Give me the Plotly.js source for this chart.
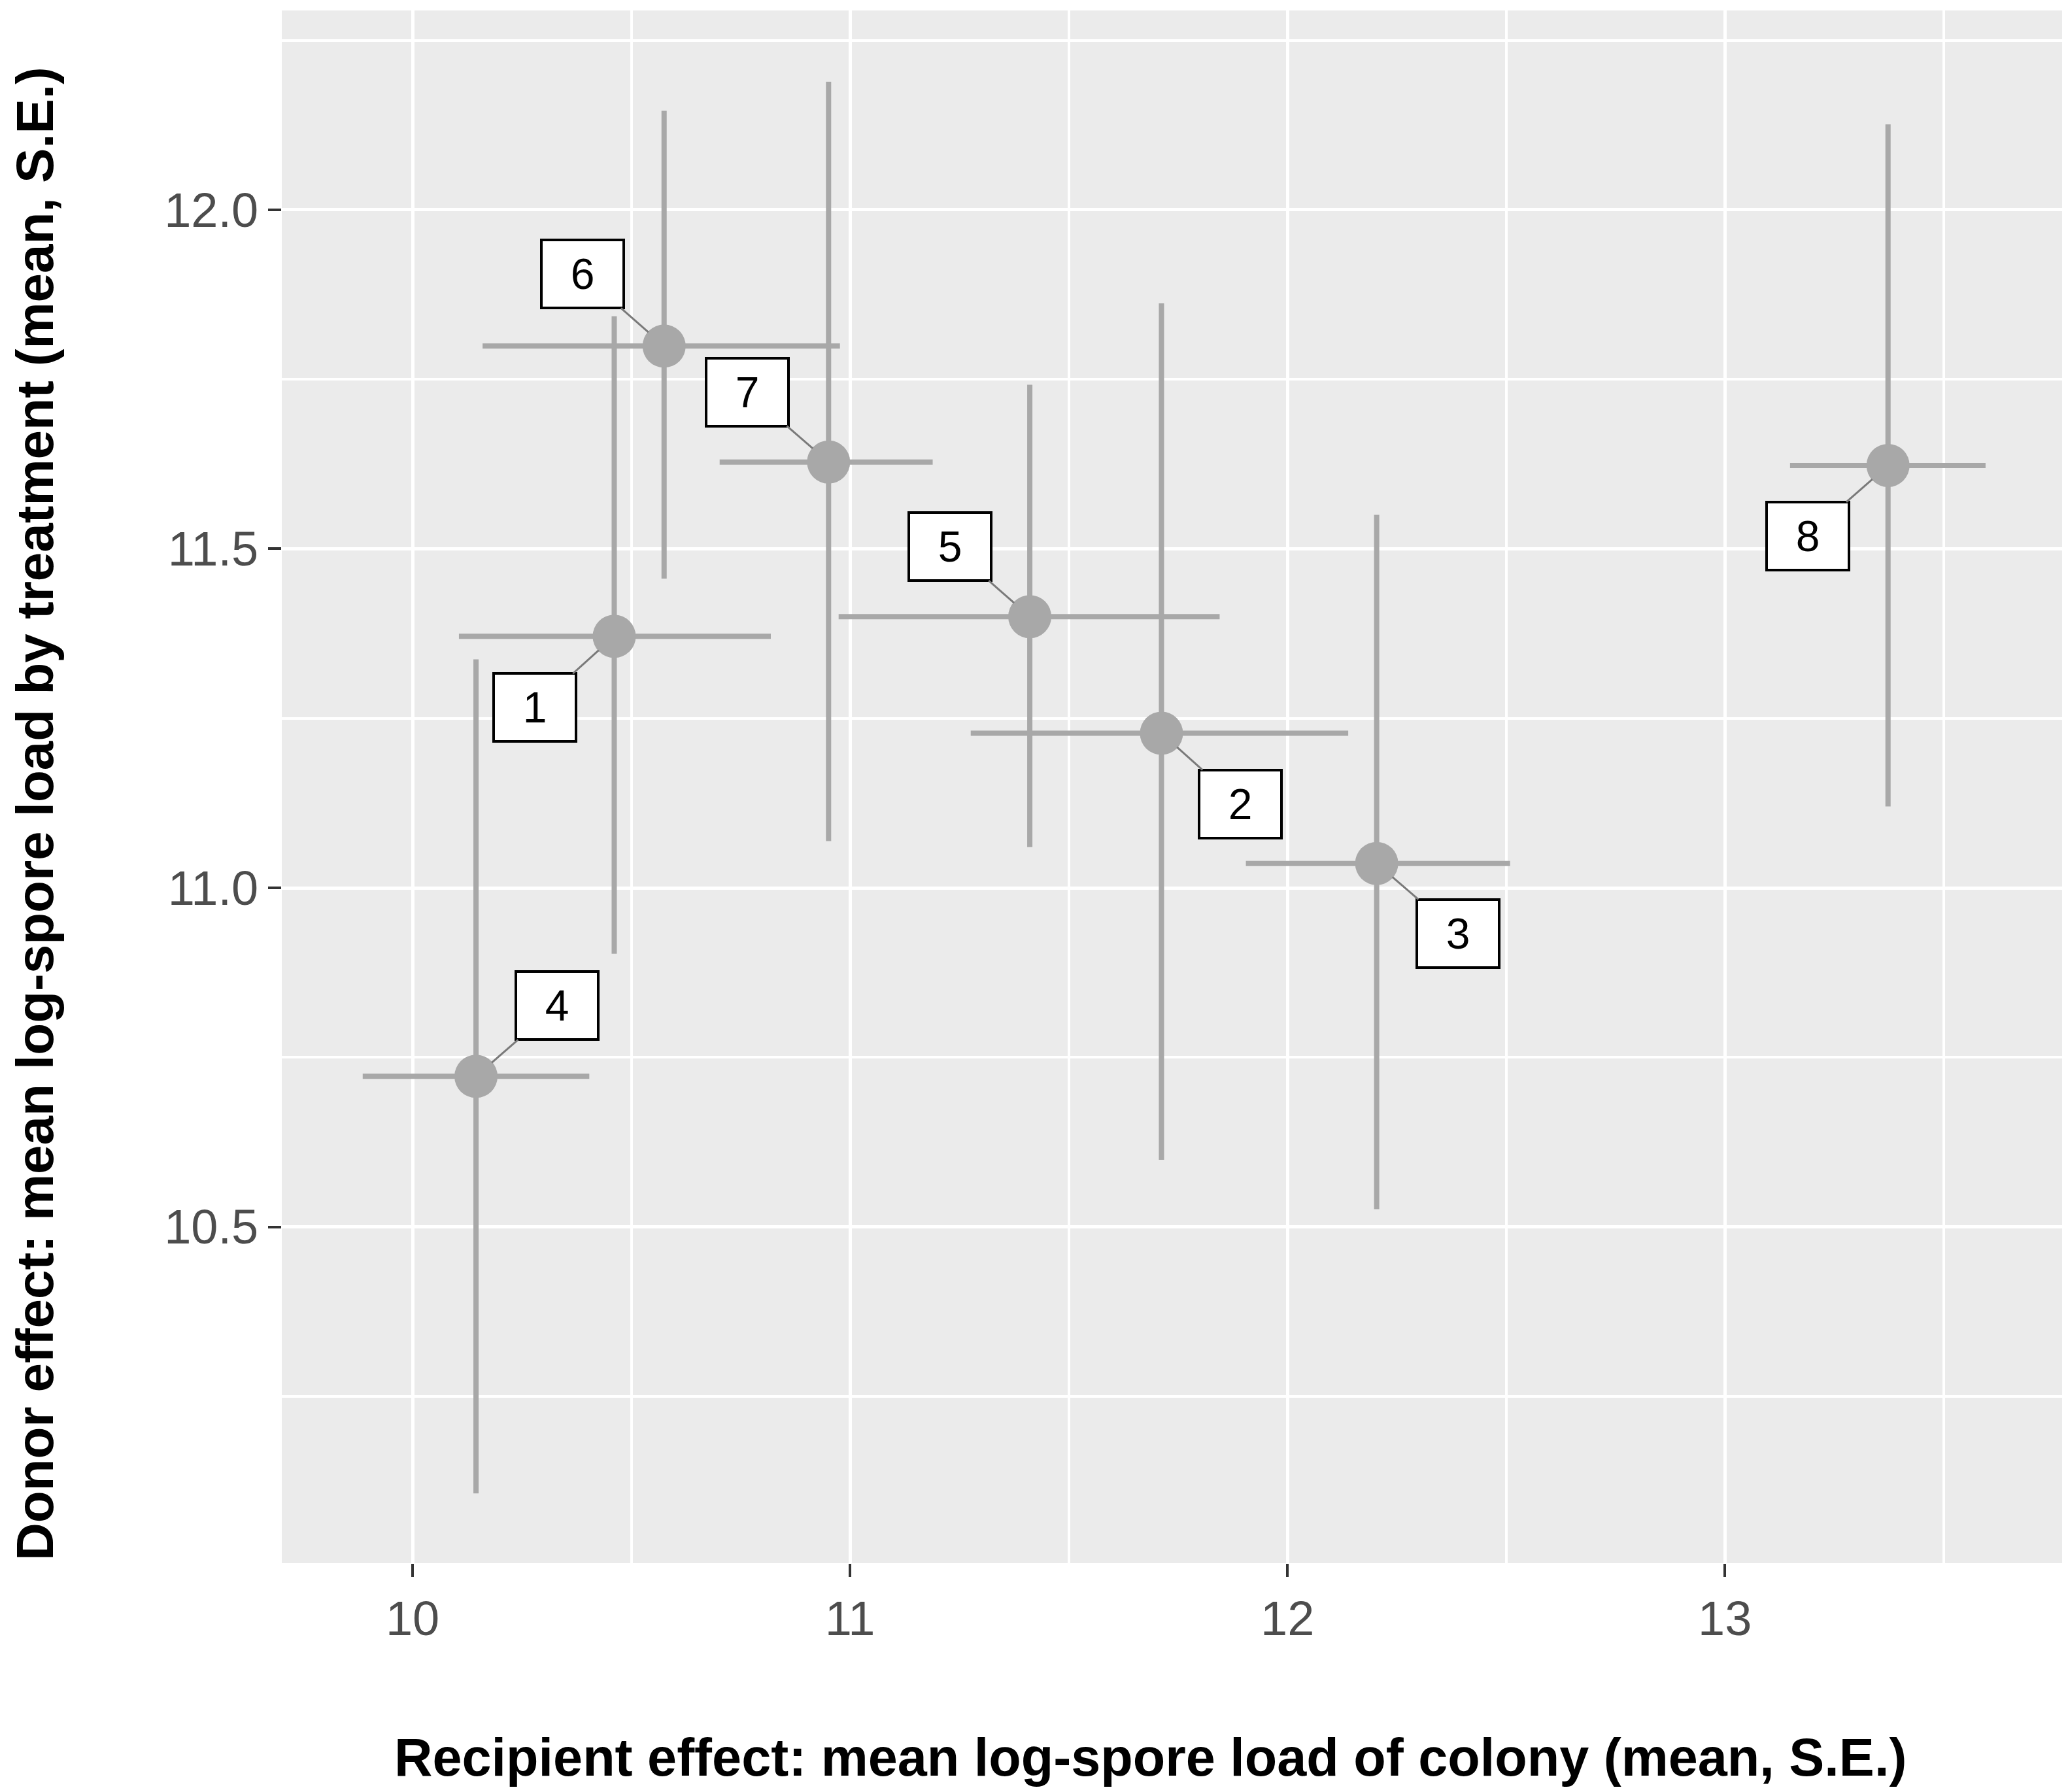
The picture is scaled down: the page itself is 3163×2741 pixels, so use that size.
<!DOCTYPE html>
<html>
<head>
<meta charset="utf-8">
<script src="https://cdn.plot.ly/plotly-3.0.1.min.js"></script>
<style>
  html, body { margin: 0; padding: 0; background: #ffffff; }
  #chart { width: 3163px; height: 2741px; }
</style>
</head>
<body>
<div id="chart"></div>
<script>
// Treatment labels
const treatments = ["1", "2", "3", "4", "5", "6", "7", "8"];

// Recipient effect (x): mean and S.E. range
const recipientMean = [10.461, 11.712, 12.204, 10.145, 11.411, 10.575, 10.951, 13.373];
const recipientLow  = [10.106, 11.276, 11.905,  9.886, 10.974, 10.160, 10.702, 13.149];
const recipientHigh = [10.819, 12.139, 12.509, 10.404, 11.845, 10.977, 11.189, 13.596];

// Donor effect (y): mean and S.E. range
const donorMean = [11.371, 11.228, 11.036, 10.722, 11.400, 11.799, 11.628, 11.623];
const donorLow  = [10.903, 10.599, 10.526, 10.107, 11.060, 11.456, 11.069, 11.120];
const donorHigh = [11.843, 11.862, 11.550, 11.337, 11.742, 12.146, 12.189, 12.126];

// Axis ticks and titles
const xTicks = [10, 11, 12, 13];
const yTicks = [10.5, 11.0, 11.5, 12.0];
const xTitle = "Recipient effect: mean log-spore load of colony (mean, S.E.)";
const yTitle = "Donor effect: mean log-spore load by treatment (mean, S.E.)";

// Label placement (pixel offsets of each label box from its point, repel-style)
const labelOffsets = [
  [-121, 109], [121, 108], [124, 107], [124, -108],
  [-122, -107], [-125, -110], [-124, -107], [-123, 108]
];

const barColor = "#a8a8a8";
const fontFamily = "Liberation Sans, Arial, sans-serif";

const trace = {
  type: "scatter",
  mode: "markers",
  x: recipientMean,
  y: donorMean,
  marker: { color: barColor, size: 66, line: { width: 0 } },
  error_x: {
    type: "data", symmetric: false,
    array: recipientHigh.map((v, i) => v - recipientMean[i]),
    arrayminus: recipientMean.map((v, i) => v - recipientLow[i]),
    color: barColor, thickness: 8, width: 0
  },
  error_y: {
    type: "data", symmetric: false,
    array: donorHigh.map((v, i) => v - donorMean[i]),
    arrayminus: donorMean.map((v, i) => v - donorLow[i]),
    color: barColor, thickness: 8, width: 0
  },
  hoverinfo: "x+y",
  showlegend: false
};

const annotations = treatments.map((t, i) => ({
  x: recipientMean[i], y: donorMean[i], xref: "x", yref: "y",
  text: t,
  showarrow: true, arrowhead: 0, arrowwidth: 3, arrowcolor: "#7a7a7a",
  ax: labelOffsets[i][0], ay: labelOffsets[i][1],
  standoff: 32,
  bgcolor: "#ffffff", bordercolor: "#000000", borderwidth: 4, borderpad: 0,
  width: 122, height: 100,
  font: { family: fontFamily, size: 66, color: "#000000" }
}));

// Axis titles (placed as in the original figure)
annotations.push({
  xref: "paper", yref: "paper", x: 0.4877, y: -0.125,
  xanchor: "center", yanchor: "middle", showarrow: false,
  text: "<b>" + xTitle + "</b>",
  font: { family: fontFamily, size: 81, color: "#000000" }
});
annotations.push({
  xref: "paper", yref: "paper", x: -0.1388, y: 0.4825,
  xanchor: "center", yanchor: "middle", showarrow: false, textangle: -90,
  text: "<b>" + yTitle + "</b>",
  font: { family: fontFamily, size: 80, color: "#000000" }
});

const layout = {
  width: 3163, height: 2741,
  margin: { l: 431, r: 9, t: 16, b: 350, pad: 0 },
  paper_bgcolor: "#ffffff",
  plot_bgcolor: "#ebebeb",
  showlegend: false,
  font: { family: fontFamily },
  xaxis: {
    range: [9.701, 13.771],
    tickvals: xTicks, ticktext: xTicks.map(String),
    ticks: "outside", ticklen: 20, tickwidth: 4, tickcolor: "#333333",
    tickfont: { size: 74, color: "#4d4d4d" },
    showgrid: true, gridcolor: "#ffffff", gridwidth: 5,
    minor: { dtick: 0.5, tick0: 0, showgrid: true, gridcolor: "#ffffff", gridwidth: 4, ticks: "" },
    zeroline: false, showline: false
  },
  yaxis: {
    range: [10.004, 12.294],
    tickvals: yTicks, ticktext: yTicks.map(v => v.toFixed(1)),
    ticks: "outside", ticklen: 20, tickwidth: 4, tickcolor: "#333333",
    tickfont: { size: 74, color: "#4d4d4d" },
    showgrid: true, gridcolor: "#ffffff", gridwidth: 5,
    minor: { dtick: 0.25, tick0: 0, showgrid: true, gridcolor: "#ffffff", gridwidth: 4, ticks: "" },
    zeroline: false, showline: false
  },
  annotations: annotations
};

Plotly.newPlot("chart", [trace], layout, { staticPlot: true, displayModeBar: false });
</script>
</body>
</html>
